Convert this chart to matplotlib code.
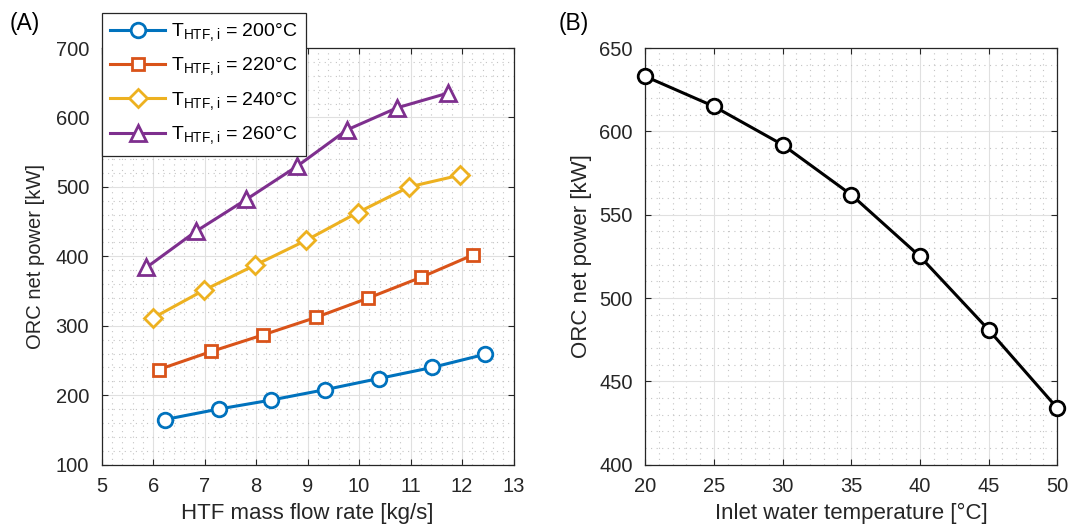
import matplotlib
matplotlib.use('Agg')
import matplotlib.pyplot as plt
from matplotlib.ticker import MultipleLocator

plt.rcParams['font.family'] = ['Liberation Sans', 'DejaVu Sans']
plt.rcParams['mathtext.fontset'] = 'custom'
plt.rcParams['mathtext.rm'] = 'Liberation Sans'
plt.rcParams['font.size'] = 14

# (A) net power vs HTF mass flow rate, one series per HTF inlet temperature
flow_200 = [6.23, 7.27, 8.29, 9.34, 10.38, 11.42, 12.45]
power_200 = [165, 180, 193, 208, 224, 240, 259]
flow_220 = [6.11, 7.13, 8.14, 9.16, 10.18, 11.21, 12.21]
power_220 = [237, 263, 287, 312, 340, 370, 402]
flow_240 = [5.99, 6.98, 7.97, 8.97, 9.97, 10.97, 11.96]
power_240 = [311, 351, 387, 423, 463, 500, 517]
flow_260 = [5.87, 6.83, 7.81, 8.80, 9.76, 10.74, 11.72]
power_260 = [384, 436, 482, 530, 582, 614, 635]
htf_temps = [200, 220, 240, 260]

# (B) net power vs inlet water temperature
water_temp = [20, 25, 30, 35, 40, 45, 50]
power_water = [633, 615, 592, 562, 525, 481, 434]

colors = ['#0072BD', '#D95319', '#EDB120', '#7E2F8E']
markers = ['o', 's', 'D', '^']
msizes = [10.5, 9, 9.5, 11.5]
text_col = '#262626'


def style_axes(ax):
    ax.grid(which='major', color='#e0e0e0', linewidth=0.8, linestyle='-')
    ax.grid(which='minor', color='#c4c4c4', linewidth=0.8, linestyle=(0, (1, 4)))
    ax.set_axisbelow(True)
    ax.tick_params(which='major', direction='in', length=4, width=0.8,
                   top=True, right=True, colors=text_col, labelsize=14.5, pad=9)
    ax.tick_params(which='minor', length=0, top=True, right=True)
    for sp in ax.spines.values():
        sp.set_color(text_col)
        sp.set_linewidth(0.9)


fig = plt.figure(figsize=(10.7, 5.28), dpi=100)

ax1 = fig.add_axes([0.095, 0.12, 0.385, 0.789])
series = [(flow_200, power_200), (flow_220, power_220),
          (flow_240, power_240), (flow_260, power_260)]
for (x, y), t, c, m, ms in zip(series, htf_temps, colors, markers, msizes):
    ax1.plot(x, y, color=c, marker=m, markersize=ms, markerfacecolor='white',
             markeredgewidth=2, linewidth=2.2,
             label=r'T$_{\mathregular{HTF,i}}$ = %d°C' % t)
ax1.set_xlim(5, 13)
ax1.set_ylim(100, 700)
ax1.xaxis.set_major_locator(MultipleLocator(1))
ax1.xaxis.set_minor_locator(MultipleLocator(0.2))
ax1.yaxis.set_major_locator(MultipleLocator(100))
ax1.yaxis.set_minor_locator(MultipleLocator(20))
style_axes(ax1)
ax1.set_xlabel('HTF mass flow rate [kg/s]', color=text_col, fontsize=16,
               labelpad=5)
ax1.set_ylabel('ORC net power [kW]', color=text_col, fontsize=14.5,
               labelpad=8)

leg = ax1.legend(loc='upper left', bbox_to_anchor=(0.095, 0.976),
                 bbox_transform=fig.transFigure, borderaxespad=0,
                 frameon=True, fancybox=False, edgecolor=text_col,
                 framealpha=1, fontsize=14, handlelength=2.8,
                 handletextpad=0.3, labelspacing=0.63, borderpad=0.45)
leg.get_frame().set_linewidth(0.9)

ax2 = fig.add_axes([0.603, 0.12, 0.385, 0.789])
ax2.plot(water_temp, power_water, color='black', marker='o', markersize=10.5,
         markerfacecolor='white', markeredgewidth=2, linewidth=2.2, clip_on=False,
         zorder=5)
ax2.set_xlim(20, 50)
ax2.set_ylim(400, 650)
ax2.xaxis.set_major_locator(MultipleLocator(5))
ax2.xaxis.set_minor_locator(MultipleLocator(1))
ax2.yaxis.set_major_locator(MultipleLocator(50))
ax2.yaxis.set_minor_locator(MultipleLocator(10))
style_axes(ax2)
ax2.set_xlabel('Inlet water temperature [°C]', color=text_col, fontsize=16,
               labelpad=5)
ax2.set_ylabel('ORC net power [kW]', color=text_col, fontsize=16,
               labelpad=5)

fig.text(0.009, 0.978, '(A)', fontsize=16.5, va='top', ha='left')
fig.text(0.522, 0.978, '(B)', fontsize=16.5, va='top', ha='left')

fig.savefig('out.png', dpi=100)
